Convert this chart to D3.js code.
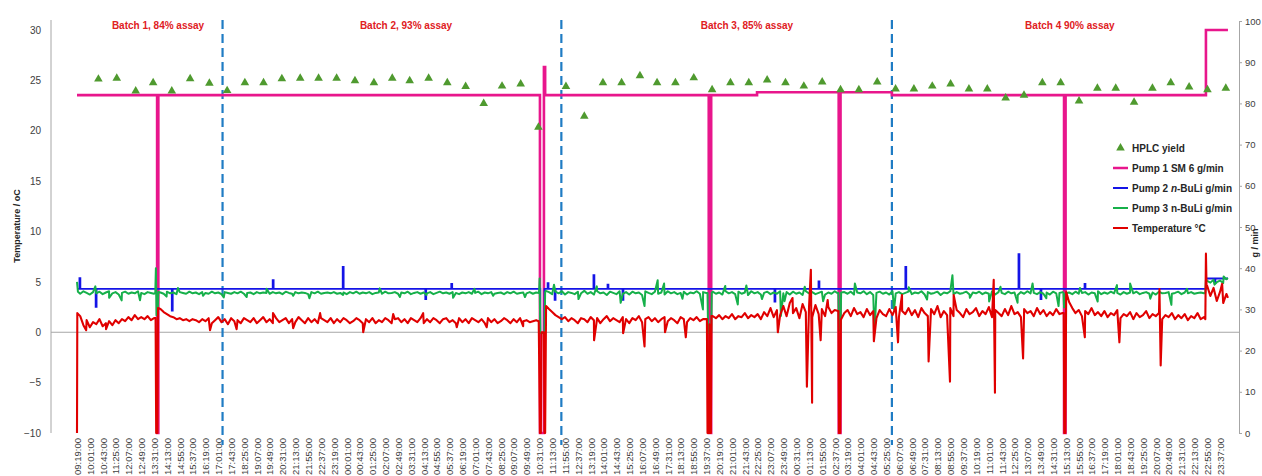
<!DOCTYPE html>
<html>
<head>
<meta charset="utf-8">
<script src="https://cdn.jsdelivr.net/npm/d3@7"></script>
<style>
  body { margin: 0; background: #fff; }
  svg { font-family: "Liberation Sans", Arial, sans-serif; }
</style>
</head>
<body>
<div id="chart"></div>
<script>
// category labels on the time axis, one every 42 minutes from 09:19
const timeLabels = ["09:19:00","10:01:00","10:43:00","11:25:00","12:07:00","12:49:00","13:31:00","14:13:00","14:55:00","15:37:00",
  "16:19:00","17:01:00","17:43:00","18:25:00","19:07:00","19:49:00","20:31:00","21:13:00","21:55:00","22:37:00",
  "23:19:00","00:01:00","00:43:00","01:25:00","02:07:00","02:49:00","03:31:00","04:13:00","04:55:00","05:37:00",
  "06:19:00","07:01:00","07:43:00","08:25:00","09:07:00","09:49:00","10:31:00","11:13:00","11:55:00","12:37:00",
  "13:19:00","14:01:00","14:43:00","15:25:00","16:07:00","16:49:00","17:31:00","18:13:00","18:55:00","19:37:00",
  "20:19:00","21:01:00","21:43:00","22:25:00","23:07:00","23:49:00","00:31:00","01:13:00","01:55:00","02:37:00",
  "03:19:00","04:01:00","04:43:00","05:25:00","06:07:00","06:49:00","07:31:00","08:13:00","08:55:00","09:37:00",
  "10:19:00","11:01:00","11:43:00","12:25:00","13:07:00","13:49:00","14:31:00","15:13:00","15:55:00","16:37:00",
  "17:19:00","18:01:00","18:43:00","19:25:00","20:07:00","20:49:00","21:31:00","22:13:00","22:55:00","23:37:00"];
const labelStep = 42; // minutes between labels

// temperature (°C), read every 10.5 minutes (20 readings per row)
const tempStep = 10.5;
const tempBase = [
  1.0, 1.6, 0.7, 1.2, 0.5, 1.0, 0.8, 1.3, 0.6, 0.9, 1.1, 0.7, 1.2, 0.9, 1.3, 1.1, 1.5, 1.2, 1.7, 1.3,
  1.5, 1.3, 1.6, 1.2, 1.4, 1.4, 2.3, 2.0, 1.8, 1.6, 1.5, 1.3, 1.4, 1.2, 1.3, 1.1, 1.3, 1.2, 1.0, 1.3,
  1.1, 1.4, 0.9, 1.2, 1.5, 1.0, 1.3, 0.8, 1.4, 1.1, 1.2, 0.9, 1.4, 1.2, 1.0, 1.4, 0.9, 1.2, 1.5, 1.0,
  1.3, 0.9, 1.4, 1.0, 1.2, 1.4, 0.9, 1.3, 1.0, 1.5, 1.2, 0.9, 1.4, 1.0, 1.3, 0.9, 1.4, 1.2, 1.0, 1.4,
  0.9, 1.3, 1.0, 1.4, 1.2, 0.9, 1.1, 1.4, 1.2, 0.9, 1.3, 1.0, 1.4, 0.9, 1.2, 1.0, 1.4, 1.2, 0.9, 1.3,
  1.4, 1.0, 1.3, 0.9, 1.4, 1.2, 1.0, 1.4, 0.9, 1.3, 1.0, 1.4, 1.2, 0.9, 1.3, 1.4, 1.0, 1.2, 0.9, 1.4,
  1.0, 1.3, 0.9, 1.4, 1.2, 1.0, 1.3, 0.9, 1.4, 1.0, 1.3, 0.9, 1.1, 1.4, 1.2, 0.9, 1.3, 1.0, 1.4, 1.1,
  1.2, 1.0, 1.1, 1.2, 1.1, 1.1, 1.1, 2.3, 2.0, 1.7, 1.5, 1.3, 1.5, 1.1, 1.4, 1.2, 0.9, 1.4, 1.3, 1.0,
  1.5, 1.2, 1.4, 0.9, 1.3, 1.6, 1.1, 1.4, 1.2, 1.0, 1.5, 1.3, 0.9, 1.4, 1.2, 1.6, 1.0, 1.3, 1.5, 1.1,
  1.4, 1.0, 1.3, 1.5, 1.1, 1.4, 1.2, 0.9, 1.5, 1.3, 1.0, 1.4, 1.2, 1.5, 1.1, 1.3, 1.3, 1.3, 1.6, 1.4,
  1.7, 1.3, 1.6, 1.4, 1.8, 1.3, 1.6, 1.5, 1.9, 1.4, 1.7, 1.5, 1.8, 1.3, 2.0, 1.6, 2.4, 1.5, 2.2, 1.7,
  2.6, 1.6, 2.9, 1.9, 2.4, 1.4, 2.8, 2.0, 2.5, 1.5, 2.7, 1.8, 2.3, 1.6, 2.5, 1.9, 2.2, 2.1, 1.3, 1.9,
  2.2, 1.6, 2.4, 1.8, 2.0, 1.5, 2.3, 1.7, 2.1, 1.4, 2.2, 1.8, 1.6, 2.3, 1.7, 2.5, 1.5, 2.1, 1.8, 2.4,
  1.7, 2.2, 1.5, 2.4, 1.9, 1.6, 2.3, 1.8, 2.6, 1.5, 2.1, 1.7, 2.4, 1.6, 2.2, 1.9, 1.5, 2.3, 1.8, 2.0,
  2.4, 1.6, 2.1, 1.8, 2.5, 1.5, 2.2, 1.9, 1.6, 2.3, 1.7, 2.6, 1.8, 2.0, 1.5, 2.3, 1.9, 2.1, 1.6, 2.4,
  1.8, 2.2, 1.6, 2.0, 1.7, 2.3, 1.8, 1.9, 2.0, 3.0, 2.4, 1.9, 2.2, 1.6, 2.1, 1.8, 2.4, 1.7, 2.0, 1.6,
  2.1, 1.5, 1.9, 1.7, 2.2, 1.4, 1.8, 1.6, 2.0, 1.3, 1.9, 1.5, 1.7, 2.1, 1.4, 1.8, 1.6, 1.9, 1.3, 1.7,
  1.5, 1.9, 1.3, 1.7, 1.4, 1.8, 1.2, 1.6, 1.4, 1.9, 1.3, 1.5, 4.6, 3.6, 4.4, 3.1, 4.0, 2.9, 3.8];
// short excursions [minute, °C]
const tempSpikes = [[30,0.2],[95,0.3],[435,0.2],[522,0.3],[641,1.9],[707,0.4],[795,1.9],[936,0.0],[1034,1.8],[1132,1.9],
  [1242,0.5],[1340,0.5],[1459,0.6],[1691,-0.8],[1786,-0.1],[1856,-1.4],[1923,0.0],[1991,-0.5],
  [2292,0.0],[2340,3.4],[2387,-5.4],[2400,6.2],[2404,-7.0],[2432,-0.8],[2455,3.2],
  [2606,-0.9],[2685,-1.0],[2698,3.7],[2785,-2.9],[2855,-4.9],[2867,3.7],[2998,5.2],[3002,-6.0],[3094,-2.6],
  [3296,-0.5],[3409,-1.0],[3540,4.3],[3544,-3.3],[3745,4.8],[3764,3.4]];
// shutdowns / restarts
const tempEvents = [
  [[0,-10],[1,1.9]],
  [[257,1.4],[259,-10],[263,-10],[265,2.4]],
  [[1510,1.1],[1514,-10],[1517,-10],[1519,0.0],[1527,0.0],[1529,-10],[1531,-10],[1534,2.6]],
  [[2060,1.3],[2062,-10],[2066,-10],[2068,0.8],[2070,-10],[2073,-10],[2075,1.6]],
  [[2490,2.1],[2492,-10],[2496,-10],[2498,1.2]],
  [[3227,1.9],[3229,-10],[3232,-10],[3235,4.0]],
  [[3690,1.3],[3692,7.8],[3694,4.6]]];

// pump 3 n-BuLi (g/min), read every 10.5 minutes (20 readings per row)
const pump3Step = 10.5;
const pump3Base = [
  34.3, 33.8, 34.4, 34.0, 33.6, 34.2, 33.9, 34.3, 33.7, 34.1, 34.4, 33.9, 34.2, 33.6, 34.0, 34.3, 33.8, 34.1, 33.9, 34.4,
  34.0, 33.7, 34.2, 34.0, 33.8, 34.0, 34.1, 33.8, 34.3, 33.9, 34.1, 33.7, 34.2, 34.0, 33.8, 34.3, 33.9, 34.1, 33.7, 34.2,
  34.0, 33.8, 34.3, 33.9, 34.1, 33.7, 34.2, 34.0, 33.8, 34.2, 33.9, 34.3, 33.8, 34.0, 34.1, 33.7, 34.2, 33.9, 34.1, 34.0,
  33.8, 34.2, 33.9, 34.1, 33.7, 34.3, 34.0, 33.8, 34.2, 33.9, 34.1, 34.0, 33.7, 34.2, 33.9, 34.3, 33.8, 34.0, 34.1, 33.9,
  34.2, 33.8, 34.0, 34.1, 33.7, 34.2, 33.9, 34.3, 33.8, 34.1, 33.9, 34.2, 33.7, 34.0, 34.1, 33.8, 34.3, 33.9, 34.0, 34.2,
  33.8, 34.1, 33.9, 34.3, 33.7, 34.0, 34.2, 33.8, 34.1, 33.9, 34.2, 33.7, 34.0, 34.3, 33.9, 34.1, 33.8, 34.2, 34.0, 33.7,
  34.1, 33.9, 34.2, 33.8, 34.0, 34.3, 33.7, 34.1, 33.9, 34.2, 33.8, 34.0, 34.1, 33.7, 34.2, 33.9, 34.3, 33.8, 34.0, 34.1,
  33.9, 34.2, 33.8, 34.1, 34.0, 34.0, 34.5, 34.2, 33.7, 34.3, 33.9, 34.4, 33.6, 34.2, 34.0, 33.7, 34.3, 33.9, 34.5, 33.8,
  34.2, 33.6, 34.4, 33.9, 34.1, 33.5, 34.3, 34.0, 33.7, 34.4, 33.8, 34.2, 33.6, 34.3, 33.9, 34.1, 33.5, 34.4, 34.0, 33.7,
  34.3, 33.8, 34.1, 33.6, 34.4, 33.9, 34.2, 33.7, 34.0, 34.3, 33.6, 34.1, 33.9, 34.4, 33.8, 34.2, 34.0, 34.0, 34.3, 33.8,
  34.1, 33.6, 34.4, 33.9, 34.2, 33.7, 34.3, 33.8, 34.1, 33.5, 34.4, 33.9, 34.2, 33.6, 34.0, 34.3, 33.7, 34.1, 33.8, 34.4,
  33.9, 34.2, 33.6, 34.3, 33.8, 34.1, 33.5, 34.4, 33.9, 34.2, 33.7, 34.0, 34.3, 33.6, 34.1, 33.8, 34.4, 33.9, 34.0, 34.2,
  33.8, 34.3, 33.6, 34.1, 33.9, 34.4, 33.7, 34.2, 33.5, 34.0, 34.3, 33.8, 34.1, 33.6, 34.4, 33.9, 34.2, 33.7, 34.0, 34.3,
  33.7, 34.1, 33.9, 34.4, 33.6, 34.2, 33.8, 34.0, 34.3, 33.5, 34.1, 33.9, 34.4, 33.7, 34.2, 33.8, 34.0, 34.3, 33.6, 34.1,
  33.9, 34.3, 33.7, 34.1, 33.8, 34.4, 33.6, 34.2, 34.0, 33.7, 34.3, 33.9, 34.1, 33.5, 34.2, 33.8, 34.4, 33.9, 34.0, 33.7,
  34.2, 33.8, 34.1, 33.6, 34.3, 33.9, 34.0, 34.2, 33.9, 34.1, 33.7, 34.3, 33.8, 34.0, 34.2, 33.6, 34.1, 33.9, 34.4, 33.7,
  34.1, 33.8, 34.3, 33.9, 34.0, 33.6, 34.2, 33.8, 34.1, 33.9, 34.3, 33.7, 34.0, 34.2, 33.8, 34.1, 33.6, 34.3, 33.9, 34.0,
  34.2, 33.8, 34.0, 34.3, 33.7, 34.1, 33.9, 34.2, 33.8, 34.0, 34.1, 33.9, 36.9, 36.5, 37.2, 36.6, 37.0, 36.4, 37.3];
const pump3Spikes = [[60,35.6],[105,32.8],[146,32.2],[206,32.2],[293,33.1],[330,35.2],[412,33.3],[480,32.9],[555,33.0],
  [620,35.0],[707,33.3],[760,32.7],[870,33.5],[990,35.1],[1056,33.0],[1143,33.5],[1230,32.8],[1300,35.0],[1361,33.3],
  [1465,33.0],[1560,36.0],[1640,32.5],[1700,35.6],[1778,31.6],[1856,30.8],[1899,37.1],[1920,36.3],[1980,32.6],
  [2047,30.0],[2120,35.7],[2161,31.2],[2189,35.8],[2240,32.5],[2302,28.4],[2314,32.0],[2380,35.5],[2440,32.0],
  [2544,36.3],[2608,24.3],[2672,30.0],[2720,35.4],[2780,32.4],[2863,38.3],[2920,32.8],[2983,31.9],[3020,35.5],
  [3076,31.6],[3125,36.3],[3170,32.7],[3210,30.8],[3280,35.2],[3338,31.9],[3401,35.9],[3444,36.3],[3510,32.6],
  [3579,31.1],[3630,35.0],[3720,36.0],[3750,38.0],[3764,37.6]];
const pump3Events = [
  [[0,36.7],[3,34.3]],
  [[256,34.0],[258,40.0],[260,28.6],[264,29.5],[266,34.2]],
  [[1511,34.0],[1513,37.5],[1515,24.3],[1529,24.3],[1531,34.2]],
  [[2062,34.0],[2064,24.3],[2074,24.3],[2076,34.0]],
  [[2490,34.0],[2492,25.0],[2497,25.0],[2499,34.1]],
  [[3226,34.0],[3228,30.5],[3233,33.8]],
  [[3690,34.0],[3692,37.2]]];

// pump 2 n-BuLi (g/min): set levels [from, to, value] and short pulses
const pump2Levels = [[0,3692,35.0],[3692,3764,37.5]];
const pump2Pulses = [[8,11,37.6],[61,64,30.6],[310,313,29.7],[640,643,37.1],[869,872,40.3],[1139,1142,32.5],
  [1224,1227,36.2],[1515,1529,24.3],[1539,1542,36.4],[1562,1565,32.3],[1689,1692,38.3],[1735,1738,36.0],
  [1784,1787,32.3],[2281,2284,31.9],[2425,2428,36.8],[2709,2712,40.3],[3079,3082,43.4],[3151,3154,32.5],
  [3295,3298,36.2],[3720,3723,36.5]];

// pump 1 SM (g/min)
const pump1Levels = [[0,2224,82.0],[2224,2665,82.7],[2665,3692,82.0],[3692,3764,97.8]];
const pump1Pulses = [[262,266,0],[1514,1527,0],[1527,1531,88.8],[2066,2074,0],[2491,2497,0],[3228,3233,0]];

// HPLC yield (%)
const hplcTimes = [70,130,192,249,310,370,433,491,549,610,670,730,790,849,909,971,1031,1088,1150,1211,1271,1330,
  1390,1451,1509,1599,1659,1720,1781,1841,1897,1957,2017,2077,2137,2197,2257,2317,2377,2437,2497,2557,2617,2677,
  2737,2797,2857,2917,2977,3037,3097,3157,3217,3277,3337,3397,3457,3517,3577,3637,3697,3757];
const hplcYield = [85.9,86.1,83.0,85.0,83.0,86.0,84.9,83.1,85.0,85.0,86.0,86.1,86.1,86.1,85.5,85.0,86.1,85.5,86.1,
  85.0,84.1,80.0,84.2,84.7,74.2,84.1,76.9,85.0,85.0,86.7,85.0,85.0,86.2,83.3,85.0,85.0,85.7,85.0,84.2,85.2,83.3,
  83.3,85.2,83.5,83.5,84.2,84.7,83.5,83.5,81.3,82.0,85.0,85.0,80.6,83.7,83.7,80.3,83.7,85.0,84.0,83.3,83.7];

// batch annotations
const batchEdges = [476, 1584, 2665];
const batchLabels = ["Batch 1, 84% assay", "Batch 2, 93% assay", "Batch 3, 85% assay", "Batch 4 90% assay"];
const batchLabelAt = [265, 1076, 2191, 3247];

const W = 1262, H = 476;
const svg = d3.select("#chart").append("svg").attr("width", W).attr("height", H);

const x = d3.scaleLinear().domain([0, (timeLabels.length - 1) * labelStep]).range([77, 1220]);
const yT = d3.scaleLinear().domain([-10, 30]).range([433, 30]);
const yR = d3.scaleLinear().domain([0, 100]).range([433, 21]);
const plotL = 51, plotR = 1239;

function sampled(values, step, spikes, events) {
  const windows = events.map(e => [e[0][0], e[e.length - 1][0]]);
  const pts = values.map((v, i) => [i * step, v])
    .filter(p => !windows.some(w => p[0] >= w[0] && p[0] <= w[1]));
  return pts.concat(spikes, ...events).sort((a, b) => a[0] - b[0]);
}
function stepped(levels, pulses) {
  const ts = new Set();
  levels.concat(pulses).forEach(p => { ts.add(p[0]); ts.add(p[1]); });
  const at = t => {
    let v = levels[levels.length - 1][2];
    levels.forEach(l => { if (t >= l[0] && t < l[1]) v = l[2]; });
    pulses.forEach(p => { if (t >= p[0] && t < p[1]) v = p[2]; });
    return v;
  };
  return [...ts].sort((a, b) => a - b).map(t => [t, at(t)]);
}

// axes
svg.append("line").attr("x1", plotL).attr("x2", plotL).attr("y1", 20).attr("y2", yT(-10))
  .attr("stroke", "#a6a6a6");
svg.append("line").attr("x1", plotL).attr("x2", plotR).attr("y1", yT(0)).attr("y2", yT(0))
  .attr("stroke", "#a6a6a6");

const leftAxis = svg.append("g").attr("transform", `translate(${plotL},0)`)
  .call(d3.axisLeft(yT).tickValues(d3.range(-10, 31, 5)).tickSize(0).tickPadding(10));
leftAxis.select(".domain").remove();

const rightAxis = svg.append("g").attr("transform", `translate(${plotR},0)`)
  .call(d3.axisRight(yR).tickValues(d3.range(0, 101, 10)).tickSize(3).tickSizeOuter(0).tickPadding(3));

leftAxis.selectAll("text").style("font-size", "10px");
rightAxis.selectAll("text").style("font-size", "9.5px");
[leftAxis, rightAxis].forEach(g => {
  g.selectAll("text").attr("fill", "#404040");
  g.selectAll("line, path").attr("stroke", "#a6a6a6");
});

const bottomAxis = svg.append("g").attr("transform", "translate(0,433)")
  .call(d3.axisBottom(x).tickValues(timeLabels.map((d, i) => i * labelStep))
    .tickFormat((d, i) => timeLabels[i]).tickSize(0));
bottomAxis.select(".domain").remove();
bottomAxis.selectAll("text")
  .attr("transform", "rotate(-90)")
  .attr("x", -5).attr("y", 0).attr("dy", "0.35em")
  .attr("text-anchor", "end")
  .attr("fill", "#404040")
  .style("font-size", "9.5px");

svg.append("text")
  .attr("transform", "translate(20,226) rotate(-90)")
  .attr("text-anchor", "middle")
  .style("font-size", "9px").style("font-weight", "bold").attr("fill", "#262626")
  .text("Temperature / oC");
svg.append("text")
  .attr("transform", "translate(1258,243) rotate(-90)")
  .attr("text-anchor", "middle")
  .style("font-size", "9px").style("font-weight", "bold").attr("fill", "#262626")
  .text("g / min");

// batch separators and labels
svg.selectAll(".edge").data(batchEdges).enter().append("line")
  .attr("x1", d => x(d)).attr("x2", d => x(d))
  .attr("y1", 20).attr("y2", 445)
  .attr("stroke", "#1f7cc4").attr("stroke-width", 2.2).attr("stroke-dasharray", "9,5");

svg.selectAll(".batch").data(batchLabels).enter().append("text")
  .attr("x", (d, i) => x(batchLabelAt[i])).attr("y", 29)
  .attr("text-anchor", "middle")
  .style("font-size", "10px").style("font-weight", "bold").attr("fill", "#e0201e")
  .text(d => d);

// series
const lineR = d3.line().x(d => x(d[0])).y(d => yR(d[1]));
const stepR = d3.line().curve(d3.curveStepAfter).x(d => x(d[0])).y(d => yR(d[1]));
const lineT = d3.line().x(d => x(d[0])).y(d => yT(d[1]));

const colors = { pump1: "#e8168c", pump2: "#1414e6", pump3: "#16b04a", temp: "#e00000", hplc: "#4f9a2f" };

svg.append("path").datum(stepped(pump1Levels, pump1Pulses)).attr("d", stepR)
  .attr("fill", "none").attr("stroke", colors.pump1).attr("stroke-width", 2.6);
svg.append("path").datum(stepped(pump2Levels, pump2Pulses)).attr("d", stepR)
  .attr("fill", "none").attr("stroke", colors.pump2).attr("stroke-width", 1.8);
svg.append("path").datum(sampled(pump3Base, pump3Step, pump3Spikes, pump3Events)).attr("d", lineR)
  .attr("fill", "none").attr("stroke", colors.pump3).attr("stroke-width", 2).attr("stroke-linejoin", "round");
svg.append("path").datum(sampled(tempBase, tempStep, tempSpikes, tempEvents)).attr("d", lineT)
  .attr("fill", "none").attr("stroke", colors.temp).attr("stroke-width", 2.1).attr("stroke-linejoin", "round");

const tri = d3.symbol().type(d3.symbolTriangle).size(32);
svg.selectAll(".hplc").data(hplcTimes).enter().append("path")
  .attr("d", tri)
  .attr("transform", (d, i) => `translate(${x(d)},${yR(hplcYield[i])})`)
  .attr("fill", colors.hplc);

// legend
const legendItems = [
  { key: "hplc", parts: [["HPLC yield", false]] },
  { key: "pump1", parts: [["Pump 1 SM 6 g/min", false]] },
  { key: "pump2", parts: [["Pump 2 ", false], ["n", true], ["-BuLi g/min", false]] },
  { key: "pump3", parts: [["Pump 3 n-BuLi g/min", false]] },
  { key: "temp", parts: [["Temperature °C", false]] }
];
const legend = svg.append("g").attr("transform", "translate(1113,148)");
legendItems.forEach((it, i) => {
  const g = legend.append("g").attr("transform", `translate(0,${i * 20})`);
  if (it.key === "hplc") {
    g.append("path").attr("d", tri).attr("transform", "translate(7.5,0)").attr("fill", colors.hplc);
  } else {
    g.append("line").attr("x1", 0).attr("x2", 15).attr("y1", 0).attr("y2", 0)
      .attr("stroke", colors[it.key]).attr("stroke-width", it.key === "pump1" ? 2.5 : 2);
  }
  const t = g.append("text").attr("x", 19).attr("dy", "0.35em")
    .style("font-size", "10px").style("font-weight", "bold").attr("fill", "#262626");
  it.parts.forEach(p => t.append("tspan").style("font-style", p[1] ? "italic" : "normal").text(p[0]));
});
</script>
</body>
</html>
